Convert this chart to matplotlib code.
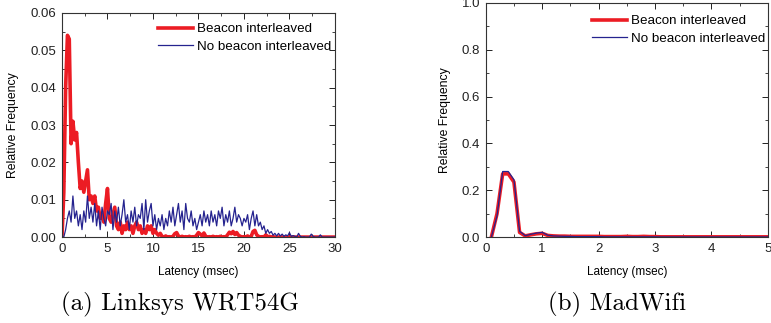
import matplotlib
matplotlib.use("Agg")
import matplotlib.pyplot as plt
import numpy as np
from matplotlib.ticker import MultipleLocator

plt.rcParams['font.family'] = ['Liberation Sans', 'DejaVu Sans']

# (a) Linksys WRT54G, latency histogram in 0.2 msec bins
lat_a = np.round(np.arange(0, 30.01, 0.2), 1)
beacon_a = [
    0.0, 0.012, 0.040, 0.054, 0.053, 0.025, 0.031, 0.026, 0.028, 0.020,
    0.013, 0.015, 0.012, 0.015, 0.018, 0.010, 0.011, 0.009, 0.011, 0.007,
    0.008, 0.005, 0.006, 0.004, 0.009, 0.013, 0.005, 0.004, 0.006, 0.008,
    0.003, 0.002, 0.004, 0.001, 0.003, 0.002, 0.004, 0.002, 0.003, 0.001,
    0.003, 0.004, 0.002, 0.003, 0.001, 0.002, 0.001, 0.003, 0.002, 0.003,
    0.001, 0.002, 0.001, 0.0005, 0.001, 0.0002, 0.0, 0.0003, 0.0, 0.0001,
    0.0, 0.0002, 0.0009, 0.0012, 0.0003, 0.0, 0.0002, 0.0, 0.0001, 0.0,
    0.0002, 0.0, 0.0001, 0.0, 0.0005, 0.0012, 0.0008, 0.0003, 0.0011, 0.0002,
    0.0, 0.0001, 0.0, 0.0002, 0.0, 0.0001, 0.0, 0.0002, 0.0, 0.0001,
    0.0, 0.0006, 0.0013, 0.0009, 0.0015, 0.0007, 0.0012, 0.0005, 0.0002, 0.0,
    0.0001, 0.0, 0.0003, 0.0, 0.0002, 0.0015, 0.0018, 0.0006, 0.0002, 0.0,
    0.0001, 0.0, 0.0006, 0.0, 0.0002, 0.0, 0.0001, 0.0, 0.0, 0.0,
    0.0001, 0.0, 0.0, 0.0, 0.0, 0.0, 0.0, 0.0, 0.0, 0.0,
    0.0, 0.0, 0.0, 0.0, 0.0, 0.0, 0.0, 0.0, 0.0, 0.0,
    0.0, 0.0, 0.0, 0.0, 0.0, 0.0, 0.0, 0.0, 0.0, 0.0,
    0.0,
]
nobeacon_a = [
    0.0, 0.0, 0.002, 0.005, 0.007, 0.004, 0.011, 0.005, 0.007, 0.003,
    0.006, 0.002, 0.007, 0.004, 0.011, 0.005, 0.008, 0.004, 0.009, 0.003,
    0.007, 0.002, 0.008, 0.005, 0.003, 0.007, 0.006, 0.009, 0.002, 0.007,
    0.004, 0.008, 0.003, 0.006, 0.010, 0.004, 0.006, 0.002, 0.007, 0.004,
    0.008, 0.003, 0.006, 0.005, 0.009, 0.002, 0.010, 0.004, 0.007, 0.009,
    0.003, 0.006, 0.002, 0.005, 0.003, 0.006, 0.002, 0.005, 0.003, 0.007,
    0.004, 0.008, 0.003, 0.006, 0.009, 0.004, 0.007, 0.002, 0.009, 0.005,
    0.004, 0.007, 0.003, 0.005, 0.002, 0.004, 0.006, 0.003, 0.007, 0.004,
    0.006, 0.003, 0.007, 0.004, 0.006, 0.003, 0.007, 0.005, 0.008, 0.003,
    0.006, 0.004, 0.007, 0.003, 0.005, 0.008, 0.004, 0.006, 0.005, 0.003,
    0.005, 0.004, 0.006, 0.002, 0.005, 0.007, 0.003, 0.006, 0.003, 0.004,
    0.002, 0.003, 0.001, 0.002, 0.001, 0.0015, 0.0005, 0.001, 0.0003, 0.001,
    0.0003, 0.0008, 0.0002, 0.0006, 0.0003, 0.0012, 0.0002, 0.0004, 0.0002, 0.0,
    0.001, 0.0002, 0.0, 0.0001, 0.0, 0.0, 0.0, 0.0008, 0.0002, 0.0,
    0.0, 0.0, 0.0006, 0.0, 0.0, 0.0, 0.0, 0.0, 0.0, 0.0,
    0.0,
]

# (b) MadWifi, 0.1 msec bins
lat_b = np.round(np.arange(0.1, 5.01, 0.1), 1)
beacon_b = [
    0.0, 0.10, 0.27, 0.27, 0.235, 0.02, 0.005, 0.01, 0.014, 0.016,
    0.007, 0.005, 0.004, 0.004, 0.003, 0.003, 0.003, 0.003, 0.003, 0.003,
    0.002, 0.002, 0.002, 0.002, 0.003, 0.002, 0.002, 0.003, 0.002, 0.002,
    0.001, 0.001, 0.001, 0.001, 0.001, 0.001, 0.001, 0.001, 0.001, 0.001,
    0.001, 0.001, 0.001, 0.001, 0.001, 0.001, 0.001, 0.001, 0.001, 0.001,
]
nobeacon_b = [
    0.0, 0.09, 0.28, 0.28, 0.245, 0.025, 0.006, 0.012, 0.017, 0.020,
    0.008, 0.005, 0.004, 0.003, 0.003, 0.002, 0.002, 0.002, 0.002, 0.002,
    0.001, 0.001, 0.001, 0.001, 0.001, 0.001, 0.001, 0.001, 0.001, 0.001,
    0.0005, 0.0005, 0.0005, 0.0005, 0.0005, 0.0005, 0.0005, 0.0005, 0.0005, 0.0005,
    0.0005, 0.0005, 0.0005, 0.0005, 0.0005, 0.0005, 0.0005, 0.0005, 0.0005, 0.0005,
]

red = '#ec1c24'
blue = '#25238f'

fig = plt.figure(figsize=(7.71, 3.23), dpi=100)
ax1 = fig.add_axes([0.0804, 0.266, 0.354, 0.694])
ax2 = fig.add_axes([0.630, 0.266, 0.366, 0.725])


def style(ax, anchor):
    ax.tick_params(which='both', direction='in', top=True, right=True,
                   labelsize=9.5, colors='#222222', pad=4)
    ax.tick_params(which='major', length=4, width=0.7)
    ax.tick_params(which='minor', length=2, width=0.6)
    for s in ax.spines.values():
        s.set_color('#333333')
        s.set_linewidth(0.8)
    ax.set_xlabel('Latency (msec)', fontsize=8.5, labelpad=8)
    ax.set_ylabel('Relative Frequency', fontsize=8.8, labelpad=8)
    ax.legend(loc='upper right', bbox_to_anchor=anchor, frameon=False,
              fontsize=9.6, handlelength=2.6, handletextpad=0.3,
              labelspacing=0.4, borderaxespad=0.0, borderpad=0.0)


ax1.plot(lat_a, beacon_a, color=red, lw=2.6, label='Beacon interleaved')
ax1.plot(lat_a, nobeacon_a, color=blue, lw=0.9, label='No beacon interleaved')
ax1.set_xlim(0, 30)
ax1.set_ylim(0, 0.06)
ax1.xaxis.set_major_locator(MultipleLocator(5))
ax1.xaxis.set_minor_locator(MultipleLocator(2.5))
ax1.yaxis.set_major_locator(MultipleLocator(0.01))
ax1.yaxis.set_minor_locator(MultipleLocator(0.005))
ax1.yaxis.set_major_formatter(matplotlib.ticker.FormatStrFormatter('%.2f'))
style(ax1, (0.985, 0.955))

ax2.plot(lat_b, beacon_b, color=red, lw=2.6, label='Beacon interleaved')
ax2.plot(lat_b, nobeacon_b, color=blue, lw=0.9, label='No beacon interleaved')
ax2.set_xlim(0, 5)
ax2.set_ylim(0, 1.0)
ax2.xaxis.set_major_locator(MultipleLocator(1))
ax2.xaxis.set_minor_locator(MultipleLocator(0.5))
ax2.yaxis.set_major_locator(MultipleLocator(0.2))
ax2.yaxis.set_minor_locator(MultipleLocator(0.1))
ax2.yaxis.set_major_formatter(matplotlib.ticker.FormatStrFormatter('%.1f'))
style(ax2, (0.989, 0.949))

fig.text(0.233, 0.057, '(a) Linksys WRT54G', fontsize=18, family='cmr10',
         ha='center', va='center')
fig.text(0.800, 0.057, '(b) MadWifi', fontsize=18, family='cmr10',
         ha='center', va='center')

fig.savefig('out.png', dpi=100)
